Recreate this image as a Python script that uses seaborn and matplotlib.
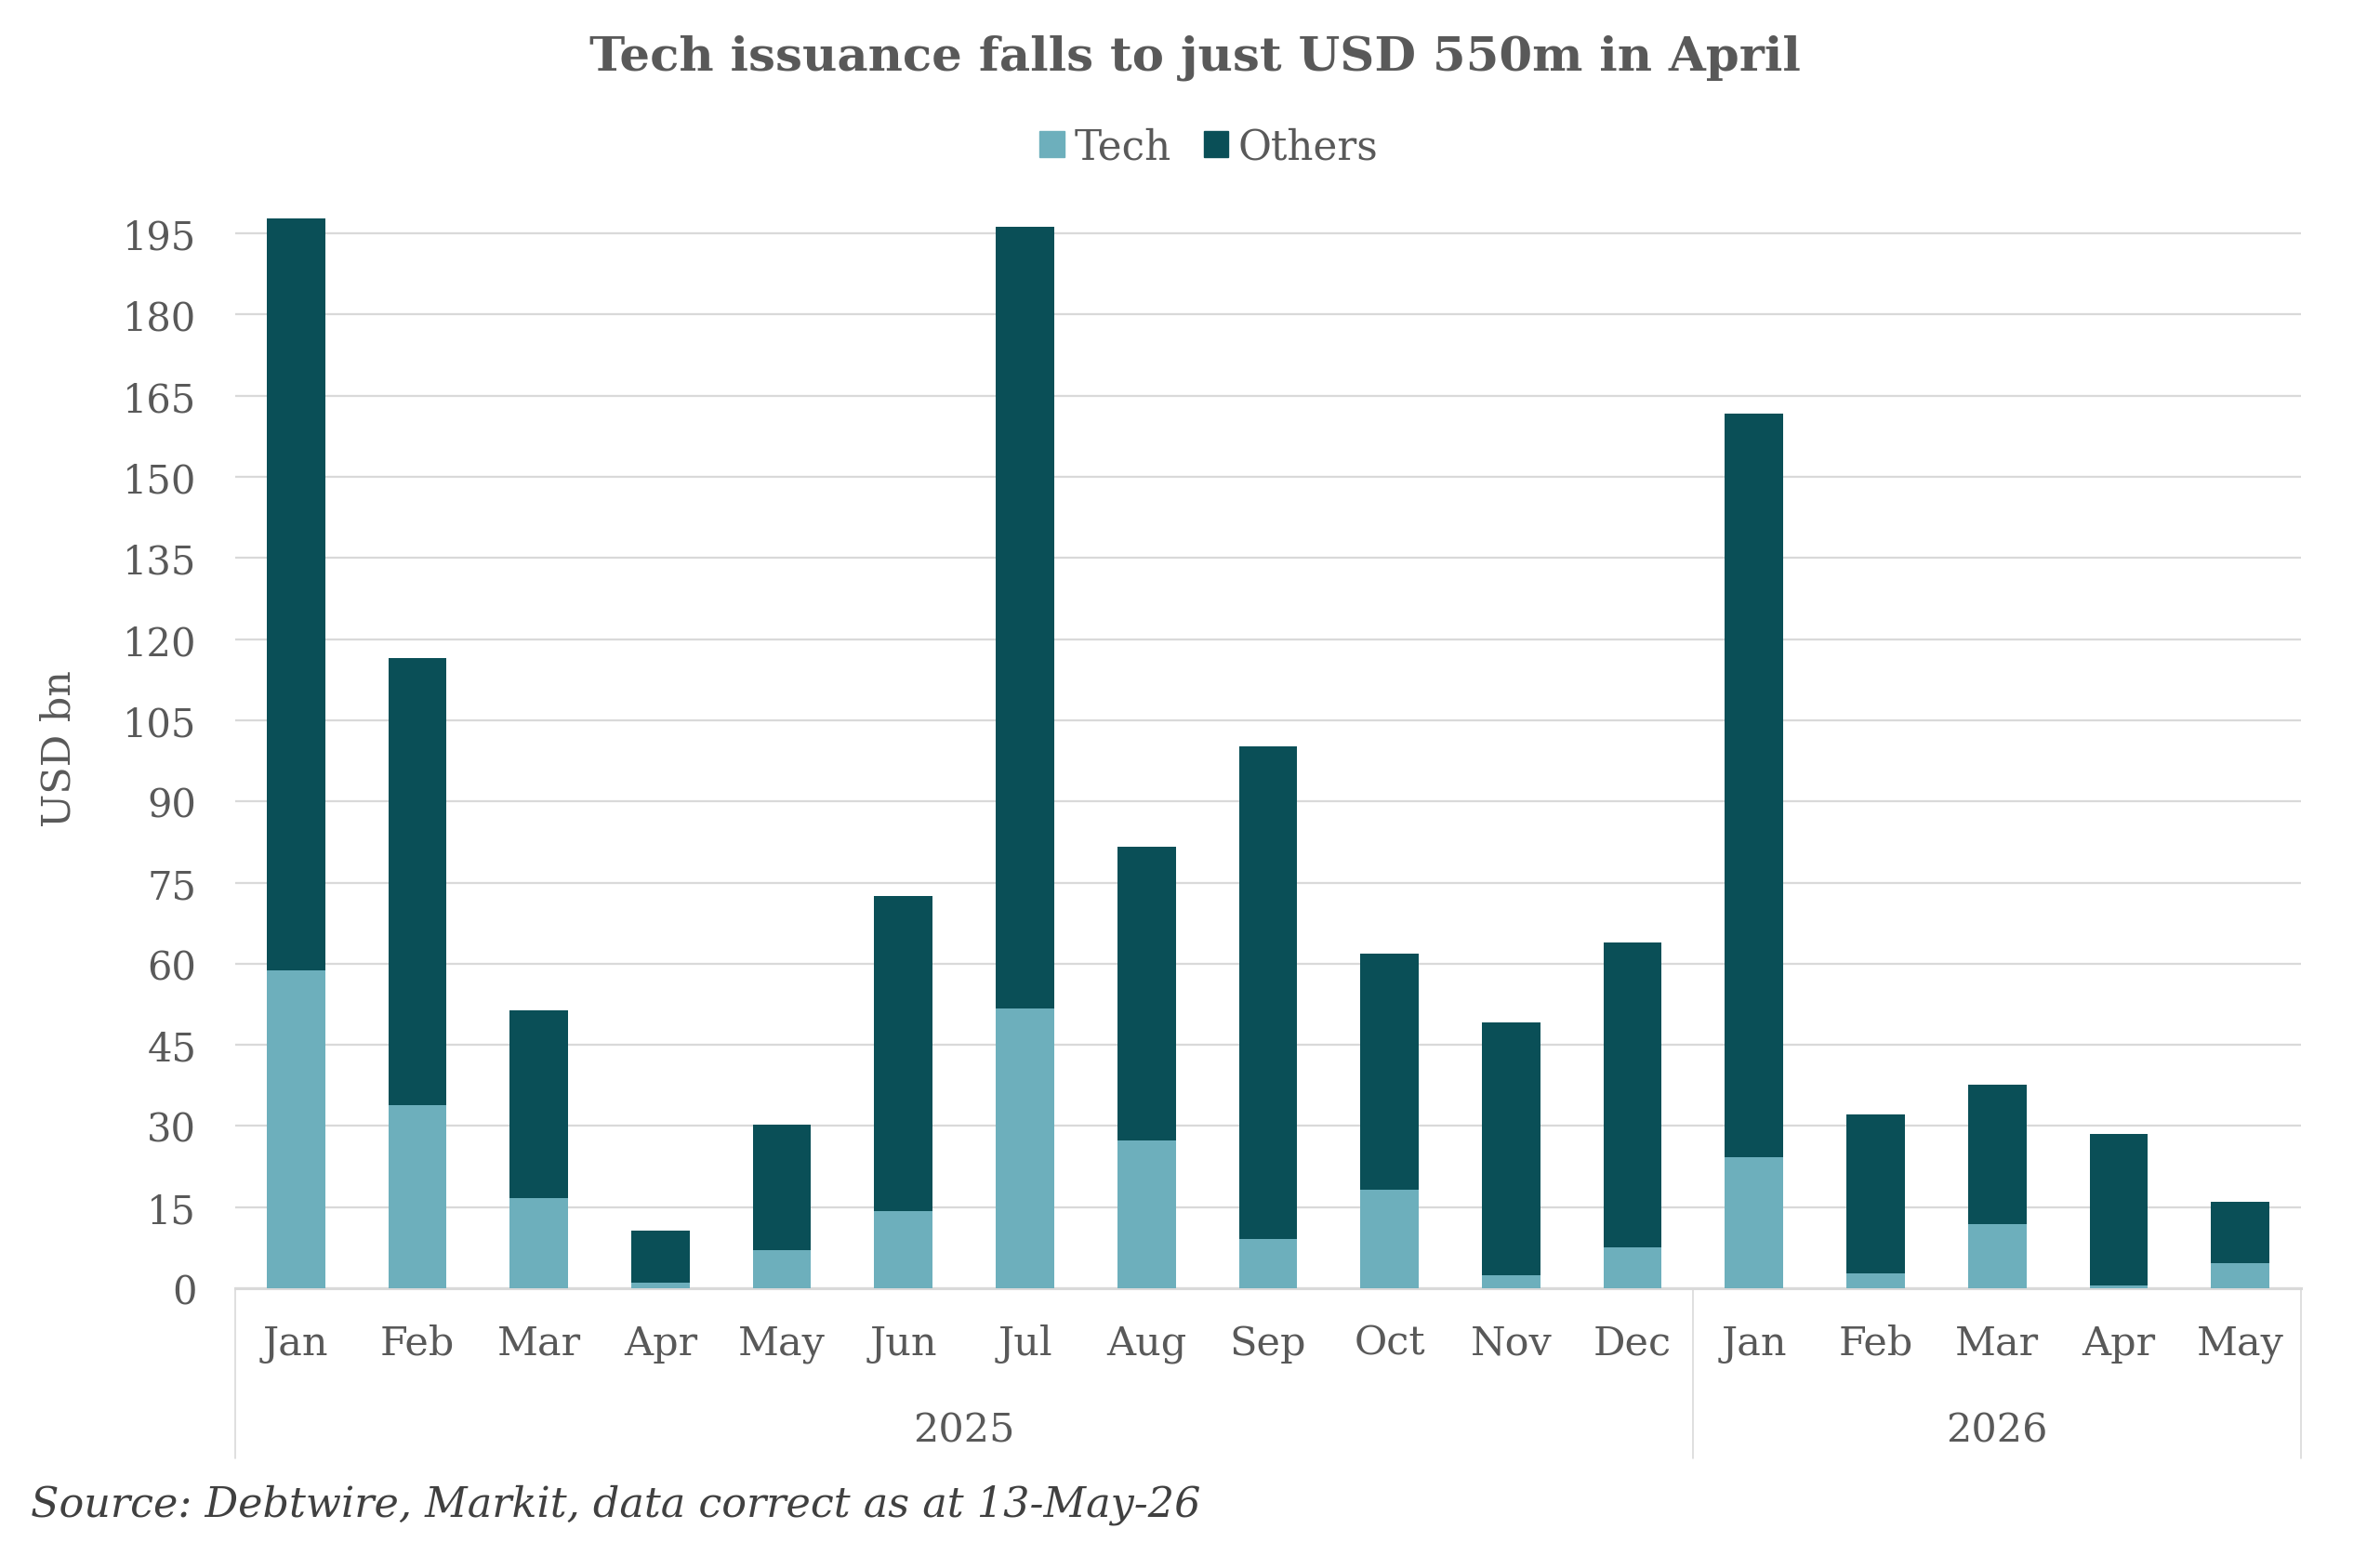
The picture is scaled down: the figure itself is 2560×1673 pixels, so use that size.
import numpy as np
import pandas as pd
import matplotlib
matplotlib.use('Agg')
import matplotlib.pyplot as plt
import matplotlib.transforms as mtrans
from matplotlib.patches import Patch
import seaborn as sns

# values (USD bn)
months = ['Jan', 'Feb', 'Mar', 'Apr', 'May', 'Jun', 'Jul', 'Aug', 'Sep', 'Oct', 'Nov', 'Dec',
          'Jan', 'Feb', 'Mar', 'Apr', 'May']
years = ['2025'] * 12 + ['2026'] * 5
tech = [58.8, 33.9, 16.6, 1.1, 7.0, 14.2, 51.7, 27.4, 9.1, 18.2, 2.4, 7.6,
        24.3, 2.8, 11.9, 0.55, 4.7]
others = [138.9, 82.6, 34.7, 9.5, 23.2, 58.4, 144.6, 54.3, 91.1, 43.7, 46.7, 56.3,
          137.3, 29.4, 25.7, 27.95, 11.3]
year_labels = ['2025', '2026']
yticks = list(range(0, 196, 15))

tech_col = '#6DAFBC'
others_col = '#0A4F57'
txt_col = '#595959'
grid_col = '#D9D9D9'

df = pd.DataFrame({'month': months, 'year': years, 'Tech': tech, 'Others': others})
df['key'] = df['year'] + '-' + df['month']
df['total'] = df['Tech'] + df['Others']

sns.set_style('white')
plt.rcParams['font.family'] = ['DejaVu Serif']
plt.rcParams['text.color'] = txt_col

fig = plt.figure(figsize=(25.6, 16.74), dpi=100)
ax = fig.add_axes([0.0988, 0.1714, 0.868, 0.6954])

sns.barplot(data=df, x='key', y='total', color=others_col, saturation=1,
            width=0.48, linewidth=0, ax=ax, zorder=3)
sns.barplot(data=df, x='key', y='Tech', color=tech_col, saturation=1,
            width=0.48, linewidth=0, ax=ax, zorder=4)

ax.set_xlim(-0.5, len(months) - 0.5)
ax.set_ylim(0, 200)
ax.set_yticks(yticks)
ax.yaxis.grid(True, color=grid_col, linewidth=1.6, zorder=0)
ax.set_axisbelow(True)
for s in ['top', 'right', 'left']:
    ax.spines[s].set_visible(False)
ax.spines['bottom'].set_color(grid_col)
ax.spines['bottom'].set_linewidth(2.2)

ax.set_xticks(range(len(months)))
ax.set_xticklabels(months)
ax.tick_params(axis='x', length=0, pad=27, labelsize=31, labelcolor=txt_col)
ax.tick_params(axis='y', length=0, pad=30, labelsize=30, labelcolor=txt_col)
ax.set_xlabel('')
ax.set_ylabel('USD bn', fontsize=31, color=txt_col)
ax.yaxis.set_label_coords(-0.076, 0.5)

# second level of the category axis: years with separator lines
trans = mtrans.blended_transform_factory(ax.transData, ax.transAxes)
n25 = years.count('2025')
for xs in [-0.5, n25 - 0.5, len(months) - 0.5]:
    ax.plot([xs, xs], [0, -0.157], transform=trans, color=grid_col,
            linewidth=1.2, clip_on=False)
ax.text((n25 - 1) / 2, -0.131, year_labels[0], transform=trans, ha='center', va='center',
        fontsize=31, color=txt_col)
ax.text(n25 + (len(months) - n25 - 1) / 2, -0.131, year_labels[1], transform=trans,
        ha='center', va='center', fontsize=31, color=txt_col)

fig.text(0.502, 0.963, 'Tech issuance falls to just USD 550m in April', ha='center',
         va='center', fontsize=37, fontweight='bold', color=txt_col)

handles = [Patch(color=tech_col, label='Tech'), Patch(color=others_col, label='Others')]
fig.legend(handles=handles, loc='center', bbox_to_anchor=(0.508, 0.905), ncol=2,
           frameon=False, fontsize=31.5, handlelength=0.6, handleheight=0.6,
           handletextpad=0.25, columnspacing=0.8, labelcolor=txt_col)

fig.text(0.013, 0.033, 'Source: Debtwire, Markit, data correct as at 13-May-26',
         ha='left', va='center', fontsize=32, fontstyle='italic', color='#404040')

fig.savefig('out.png', dpi=100, facecolor='white')
